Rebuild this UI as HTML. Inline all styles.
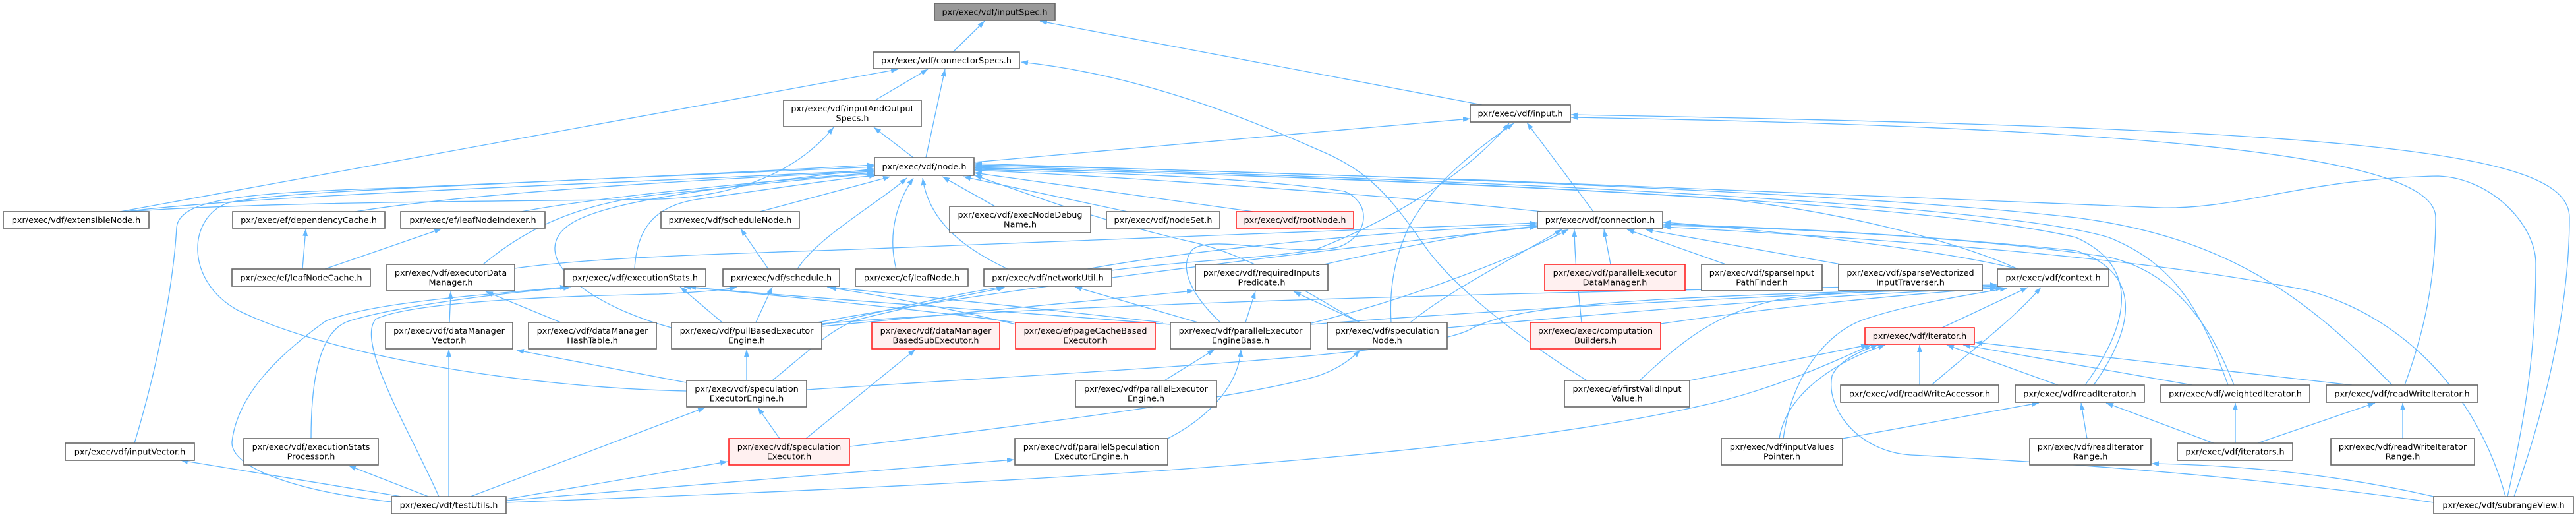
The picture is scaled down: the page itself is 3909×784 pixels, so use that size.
<!DOCTYPE html>
<html><head><meta charset="utf-8"><style>
html,body{margin:0;padding:0;background:#fff;}
svg{display:block;}
text{font-family:"DejaVu Sans","Liberation Sans",sans-serif;font-size:12.8px;fill:#000;text-anchor:middle;}
.e{fill:none;stroke:#63b8ff;stroke-width:1.3;marker-end:url(#a);}
.n{fill:#fff;stroke:#666;stroke-width:1.6;}
.r{fill:#fff0f0;stroke:#ff2222;stroke-width:1.6;}
.g{fill:#999;stroke:#666;stroke-width:1.6;}
</style></head><body>
<svg width="3909" height="784" viewBox="0 0 3909 784" xmlns="http://www.w3.org/2000/svg">
<defs><marker id="a" viewBox="0 0 11 8" refX="11" refY="4" markerWidth="11" markerHeight="8" markerUnits="userSpaceOnUse" orient="auto"><path d="M0,0 L11,4 L0,8 z" fill="#63b8ff"/></marker></defs>
<rect width="3909" height="784" fill="#fff"/>
<g>
<path class="e" d="M1446,79 L1494,32"/>
<path class="e" d="M2249,159 L1578,32"/>
<path class="e" d="M1328,152 L1408,105"/>
<path class="e" d="M1405,239 L1434,105"/>
<path class="e" d="M182,321 L1363,105"/>
<path class="e" d="M2408,577 C2300,510 2200,430 2160,370 C2110,300 2080,260 2000,227 C1850,160 1700,110 1549,94"/>
<path class="e" d="M1852,489 C1800,440 1790,400 1810,378 C1840,355 1960,390 2030,375 C2075,360 2085,310 2040,290 C1900,270 1700,262 1479,257"/>
<path class="e" d="M192,321 C400,305 850,305 1000,302 C1120,298 1210,260 1265,193"/>
<path class="e" d="M1386,239 L1326,193"/>
<path class="e" d="M1478,246 L2231,180"/>
<path class="e" d="M2418,321 L2317,186"/>
<path class="e" d="M2111,489 C2108,440 2115,390 2140,340 C2180,270 2250,220 2297,187"/>
<path class="e" d="M1687,410 C1800,395 1950,390 2000,377 C2120,330 2230,260 2290,187"/>
<path class="e" d="M188,321 C400,295 900,280 1327,258"/>
<path class="e" d="M539,321 C700,295 1000,275 1327,260"/>
<path class="e" d="M791,321 C900,300 1150,275 1327,262"/>
<path class="e" d="M733,401 C800,345 880,308 1000,295 C1150,280 1250,268 1327,264"/>
<path class="e" d="M963,408 C966,350 990,312 1060,302 C1180,285 1280,270 1330,266"/>
<path class="e" d="M204,672 C250,520 265,400 268,345 C272,300 380,292 600,285 L1327,253"/>
<path class="e" d="M1042,593 C800,588 500,540 360,470 C280,425 285,330 345,308 C420,288 800,280 1327,250"/>
<path class="e" d="M1019,497 C920,470 840,420 842,375 C845,320 950,300 1327,256"/>
<path class="e" d="M1153,321 L1351,268"/>
<path class="e" d="M1210,408 C1240,360 1330,310 1376,270"/>
<path class="e" d="M1360,408 C1345,350 1365,300 1386,270"/>
<path class="e" d="M1529,408 C1470,380 1410,340 1400,270"/>
<path class="e" d="M1510,313 L1430,268"/>
<path class="e" d="M1711,321 L1462,268"/>
<path class="e" d="M1902,321 L1478,262"/>
<path class="e" d="M2340,321 C2100,295 1700,268 1479,258"/>
<path class="e" d="M2064,489 C2000,455 1900,385 1800,365 C1650,330 1550,290 1479,266"/>
<path class="e" d="M3062,408 C2980,370 2800,320 2600,300 C2200,275 1800,262 1479,255"/>
<path class="e" d="M3164,584 C3240,480 3240,400 3150,360 C2900,300 2000,268 1479,254"/>
<path class="e" d="M3381,584 C3340,470 3300,400 3200,360 C3000,300 2000,265 1479,252"/>
<path class="e" d="M3630,584 C3500,450 3380,360 3150,330 C2800,290 2000,262 1479,250"/>
<path class="e" d="M3805,753 C3840,600 3848,500 3848,400 C3848,340 3780,270 3700,267 C3500,270 3400,318 3279,315 C3000,300 2000,262 1479,248"/>
<path class="e" d="M3815,753 C3870,600 3899,450 3899,330 C3899,230 3600,195 2384,174"/>
<path class="e" d="M3649,584 C3680,500 3696,420 3696,330 C3696,250 3400,195 2384,178"/>
<path class="e" d="M781,407 C900,390 1100,385 1300,378 C1700,365 2100,350 2332,338"/>
<path class="e" d="M1650,408 C1800,380 2100,350 2332,341"/>
<path class="e" d="M2009,401 C2150,370 2250,350 2332,343"/>
<path class="e" d="M1240,489 C1500,440 2000,380 2332,344"/>
<path class="e" d="M1990,490 C2150,450 2300,390 2380,348"/>
<path class="e" d="M2140,489 C2200,440 2300,390 2370,348"/>
<path class="e" d="M2400,489 C2395,440 2390,400 2389,348"/>
<path class="e" d="M2444,401 L2434,348"/>
<path class="e" d="M2619,401 L2469,348"/>
<path class="e" d="M2794,401 L2497,348"/>
<path class="e" d="M3062,408 C2950,380 2700,350 2524,337"/>
<path class="e" d="M3177,584 C3250,480 3240,410 3150,380 C2900,355 2700,345 2524,340"/>
<path class="e" d="M3390,584 C3350,480 3290,410 3200,390 C3000,360 2700,345 2524,342"/>
<path class="e" d="M3802,753 C3760,600 3650,480 3500,440 C3300,400 3000,370 2524,344"/>
<path class="e" d="M1225,591 C1700,560 2150,540 2230,500 C2300,460 2500,450 3031,436"/>
<path class="e" d="M1247,491 C1600,460 2400,440 3031,432"/>
<path class="e" d="M1989,492 C2400,460 2800,445 3031,434"/>
<path class="e" d="M2196,497 C2500,470 2800,445 3031,437"/>
<path class="e" d="M2520,491 C2700,465 2900,445 3031,437"/>
<path class="e" d="M2488,577 C2550,520 2600,475 2701,454 C2800,440 2950,440 3040,437"/>
<path class="e" d="M2947,497 L3077,436"/>
<path class="e" d="M2931,584 C2980,540 3050,490 3097,436"/>
<path class="e" d="M2706,665 C2720,560 2780,500 2830,484 C2900,460 3000,445 3046,437"/>
<path class="e" d="M2913,584 L2913,523"/>
<path class="e" d="M3123,584 L2954,523"/>
<path class="e" d="M3327,584 L2979,523"/>
<path class="e" d="M3569,584 L2997,519"/>
<path class="e" d="M2564,577 L2835,523"/>
<path class="e" d="M2700,665 C2710,600 2780,550 2861,523"/>
<path class="e" d="M3693,762 C3400,720 3100,700 2900,690 C2820,685 2770,620 2780,570 C2790,545 2830,530 2850,523"/>
<path class="e" d="M768,762 C1500,735 2200,700 2574,617 C2700,590 2800,540 2840,523"/>
<path class="e" d="M2796,665 L3094,611"/>
<path class="e" d="M3359,672 L3196,611"/>
<path class="e" d="M3167,665 L3158,611"/>
<path class="e" d="M3392,672 L3392,611"/>
<path class="e" d="M3426,672 L3604,611"/>
<path class="e" d="M3646,665 L3646,611"/>
<path class="e" d="M3693,753 C3550,720 3400,705 3265,703"/>
<path class="e" d="M459,408 L464,347"/>
<path class="e" d="M493,408 L670,347"/>
<path class="e" d="M682,489 L684,442"/>
<path class="e" d="M851,489 L737,442"/>
<path class="e" d="M681,753 L681,530"/>
<path class="e" d="M609,753 L274,698"/>
<path class="e" d="M650,753 L529,706"/>
<path class="e" d="M714,753 L1070,618"/>
<path class="e" d="M768,757 L1104,700"/>
<path class="e" d="M768,759 C1000,740 1300,715 1539,697"/>
<path class="e" d="M594,761 C450,745 350,710 352,670 C360,600 420,540 494,487 C560,460 700,450 861,435"/>
<path class="e" d="M472,665 C472,560 490,500 529,487 C600,465 750,445 866,436"/>
<path class="e" d="M666,753 C620,650 540,520 570,484 C620,460 800,450 1000,446 C1060,443 1100,440 1118,435"/>
<path class="e" d="M1041,580 L784,531"/>
<path class="e" d="M1133,577 L1133,530"/>
<path class="e" d="M1183,665 L1150,618"/>
<path class="e" d="M1223,665 L1389,530"/>
<path class="e" d="M1290,677 C1600,640 1900,600 2000,570 C2030,560 2050,545 2064,531"/>
<path class="e" d="M1767,577 L1843,530"/>
<path class="e" d="M1772,665 C1840,630 1880,580 1883,530"/>
<path class="e" d="M1166,408 L1124,347"/>
<path class="e" d="M1147,489 L1172,435"/>
<path class="e" d="M1096,489 L1032,435"/>
<path class="e" d="M1247,493 C1350,470 1450,445 1523,435"/>
<path class="e" d="M1247,495 C1500,470 1700,450 1812,441"/>
<path class="e" d="M1172,577 C1230,530 1260,500 1300,485 C1400,460 1480,445 1525,436"/>
<path class="e" d="M1890,489 L1905,442"/>
<path class="e" d="M1818,489 L1631,435"/>
<path class="e" d="M1765,489 C1600,470 1400,450 1255,435"/>
<path class="e" d="M1776,492 C1500,470 1200,450 1045,435"/>
<path class="e" d="M1542,489 C1400,470 1200,450 1038,435"/>
<path class="e" d="M1542,492 C1450,470 1350,450 1258,436"/>
<path class="e" d="M2064,489 L1963,442"/>
</g>
<g>
<rect class="g" x="1418" y="5" width="183" height="26"/><text x="1509.5" y="22.3">pxr/exec/vdf/inputSpec.h</text>
<rect class="n" x="1325" y="79" width="222" height="25"/><text x="1436" y="95.8">pxr/exec/vdf/connectorSpecs.h</text>
<rect class="n" x="1189" y="152" width="209" height="40"/><text x="1293.5" y="169">pxr/exec/vdf/inputAndOutput</text><text x="1293.5" y="183.5">Specs.h</text>
<rect class="n" x="2231" y="159" width="152" height="26"/><text x="2307" y="176.3">pxr/exec/vdf/input.h</text>
<rect class="n" x="1327" y="239" width="151" height="27"/><text x="1402.5" y="256.8">pxr/exec/vdf/node.h</text>
<rect class="n" x="5" y="321" width="221" height="25"/><text x="115.5" y="337.8">pxr/exec/vdf/extensibleNode.h</text>
<rect class="n" x="353" y="321" width="231" height="25"/><text x="468.5" y="337.8">pxr/exec/ef/dependencyCache.h</text>
<rect class="n" x="608" y="321" width="219" height="25"/><text x="717.5" y="337.8">pxr/exec/ef/leafNodeIndexer.h</text>
<rect class="n" x="1003" y="321" width="210" height="25"/><text x="1108" y="337.8">pxr/exec/vdf/scheduleNode.h</text>
<rect class="n" x="1441" y="313" width="214" height="40"/><text x="1548" y="330">pxr/exec/vdf/execNodeDebug</text><text x="1548" y="344.5">Name.h</text>
<rect class="n" x="1679" y="321" width="172" height="25"/><text x="1765" y="337.8">pxr/exec/vdf/nodeSet.h</text>
<rect class="r" x="1876" y="321" width="178" height="25"/><text x="1965" y="337.8">pxr/exec/vdf/rootNode.h</text>
<rect class="n" x="2333" y="321" width="190" height="25"/><text x="2428" y="337.8">pxr/exec/vdf/connection.h</text>
<rect class="n" x="352" y="408" width="210" height="26"/><text x="457" y="425.3">pxr/exec/ef/leafNodeCache.h</text>
<rect class="n" x="587" y="401" width="194" height="40"/><text x="684" y="418">pxr/exec/vdf/executorData</text><text x="684" y="432.5">Manager.h</text>
<rect class="n" x="856" y="408" width="215" height="26"/><text x="963.5" y="425.3">pxr/exec/vdf/executionStats.h</text>
<rect class="n" x="1097" y="408" width="177" height="26"/><text x="1185.5" y="425.3">pxr/exec/vdf/schedule.h</text>
<rect class="n" x="1298" y="408" width="171" height="26"/><text x="1383.5" y="425.3">pxr/exec/ef/leafNode.h</text>
<rect class="n" x="1493" y="408" width="194" height="26"/><text x="1590" y="425.3">pxr/exec/vdf/networkUtil.h</text>
<rect class="n" x="1814" y="401" width="201" height="40"/><text x="1914.5" y="418">pxr/exec/vdf/requiredInputs</text><text x="1914.5" y="432.5">Predicate.h</text>
<rect class="r" x="2344" y="401" width="213" height="40"/><text x="2450.5" y="418">pxr/exec/vdf/parallelExecutor</text><text x="2450.5" y="432.5">DataManager.h</text>
<rect class="n" x="2582" y="401" width="183" height="40"/><text x="2673.5" y="418">pxr/exec/vdf/sparseInput</text><text x="2673.5" y="432.5">PathFinder.h</text>
<rect class="n" x="2790" y="401" width="218" height="40"/><text x="2899" y="418">pxr/exec/vdf/sparseVectorized</text><text x="2899" y="432.5">InputTraverser.h</text>
<rect class="n" x="3031" y="408" width="169" height="26"/><text x="3115.5" y="425.3">pxr/exec/vdf/context.h</text>
<rect class="n" x="585" y="489" width="193" height="40"/><text x="681.5" y="506">pxr/exec/vdf/dataManager</text><text x="681.5" y="520.5">Vector.h</text>
<rect class="n" x="802" y="489" width="194" height="40"/><text x="899" y="506">pxr/exec/vdf/dataManager</text><text x="899" y="520.5">HashTable.h</text>
<rect class="n" x="1019" y="489" width="228" height="40"/><text x="1133" y="506">pxr/exec/vdf/pullBasedExecutor</text><text x="1133" y="520.5">Engine.h</text>
<rect class="r" x="1323" y="489" width="194" height="40"/><text x="1420" y="506">pxr/exec/vdf/dataManager</text><text x="1420" y="520.5">BasedSubExecutor.h</text>
<rect class="r" x="1541" y="489" width="212" height="40"/><text x="1647" y="506">pxr/exec/ef/pageCacheBased</text><text x="1647" y="520.5">Executor.h</text>
<rect class="n" x="1776" y="489" width="213" height="40"/><text x="1882.5" y="506">pxr/exec/vdf/parallelExecutor</text><text x="1882.5" y="520.5">EngineBase.h</text>
<rect class="n" x="2014" y="489" width="182" height="40"/><text x="2105" y="506">pxr/exec/vdf/speculation</text><text x="2105" y="520.5">Node.h</text>
<rect class="r" x="2322" y="489" width="198" height="40"/><text x="2421" y="506">pxr/exec/exec/computation</text><text x="2421" y="520.5">Builders.h</text>
<rect class="r" x="2830" y="497" width="166" height="25"/><text x="2913" y="513.8">pxr/exec/vdf/iterator.h</text>
<rect class="n" x="1042" y="577" width="182" height="40"/><text x="1133" y="594">pxr/exec/vdf/speculation</text><text x="1133" y="608.5">ExecutorEngine.h</text>
<rect class="n" x="1632" y="577" width="214" height="40"/><text x="1739" y="594">pxr/exec/vdf/parallelExecutor</text><text x="1739" y="608.5">Engine.h</text>
<rect class="n" x="2374" y="577" width="190" height="40"/><text x="2469" y="594">pxr/exec/ef/firstValidInput</text><text x="2469" y="608.5">Value.h</text>
<rect class="n" x="2793" y="584" width="240" height="26"/><text x="2913" y="601.3">pxr/exec/vdf/readWriteAccessor.h</text>
<rect class="n" x="3058" y="584" width="196" height="26"/><text x="3156" y="601.3">pxr/exec/vdf/readIterator.h</text>
<rect class="n" x="3279" y="584" width="226" height="26"/><text x="3392" y="601.3">pxr/exec/vdf/weightedIterator.h</text>
<rect class="n" x="3530" y="584" width="230" height="26"/><text x="3645" y="601.3">pxr/exec/vdf/readWriteIterator.h</text>
<rect class="n" x="99" y="672" width="196" height="26"/><text x="197" y="689.3">pxr/exec/vdf/inputVector.h</text>
<rect class="n" x="370" y="665" width="204" height="40"/><text x="472" y="682">pxr/exec/vdf/executionStats</text><text x="472" y="696.5">Processor.h</text>
<rect class="r" x="1106" y="665" width="183" height="40"/><text x="1197.5" y="682">pxr/exec/vdf/speculation</text><text x="1197.5" y="696.5">Executor.h</text>
<rect class="n" x="1540" y="665" width="232" height="40"/><text x="1656" y="682">pxr/exec/vdf/parallelSpeculation</text><text x="1656" y="696.5">ExecutorEngine.h</text>
<rect class="n" x="2612" y="665" width="184" height="40"/><text x="2704" y="682">pxr/exec/vdf/inputValues</text><text x="2704" y="696.5">Pointer.h</text>
<rect class="n" x="3080" y="665" width="184" height="40"/><text x="3172" y="682">pxr/exec/vdf/readIterator</text><text x="3172" y="696.5">Range.h</text>
<rect class="n" x="3304" y="672" width="175" height="26"/><text x="3391.5" y="689.3">pxr/exec/vdf/iterators.h</text>
<rect class="n" x="3537" y="665" width="218" height="40"/><text x="3646" y="682">pxr/exec/vdf/readWriteIterator</text><text x="3646" y="696.5">Range.h</text>
<rect class="n" x="594" y="753" width="174" height="26"/><text x="681" y="770.3">pxr/exec/vdf/testUtils.h</text>
<rect class="n" x="3693" y="753" width="212" height="26"/><text x="3799" y="770.3">pxr/exec/vdf/subrangeView.h</text>
</g>
</svg>
</body></html>
